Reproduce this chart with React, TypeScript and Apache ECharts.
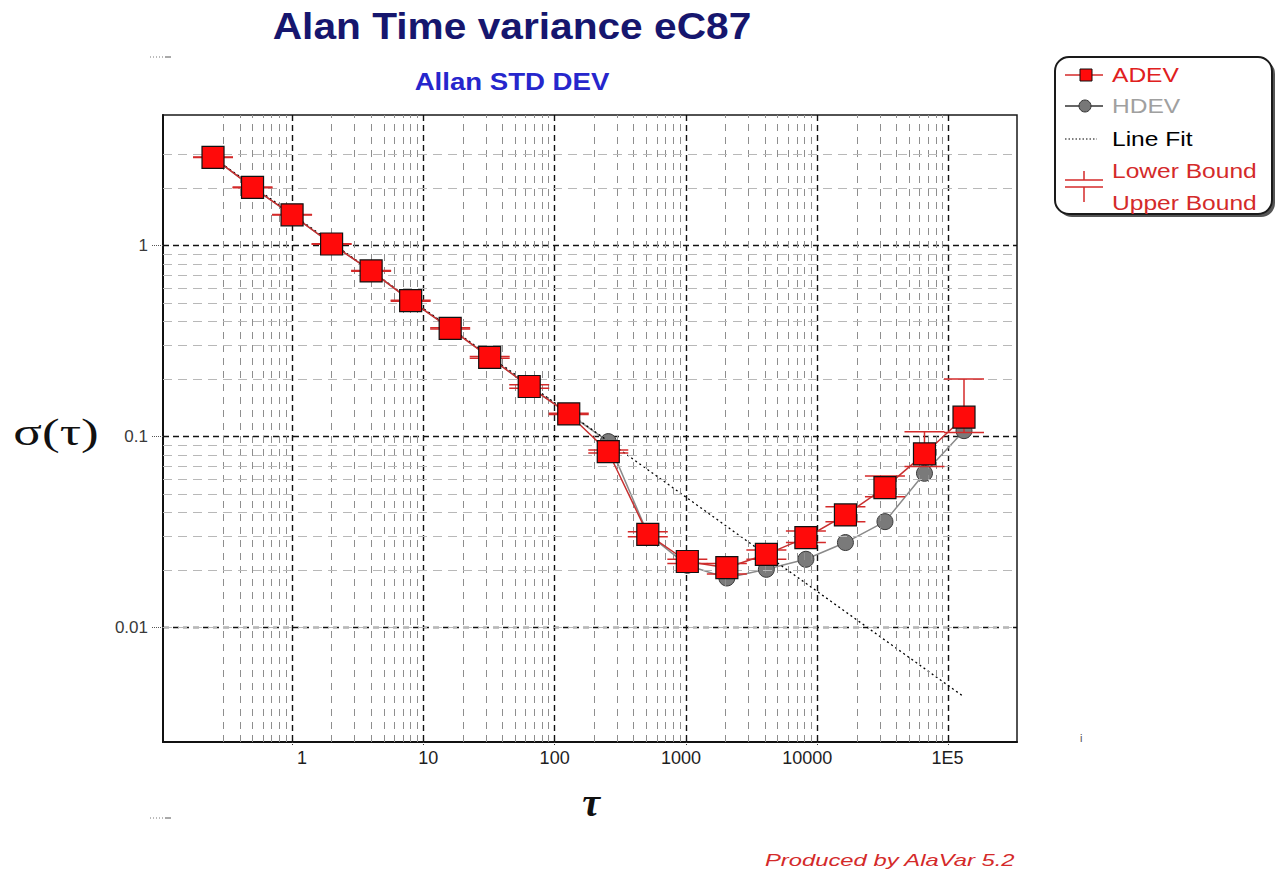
import React, { useEffect, useRef } from 'react';
import * as echarts from 'echarts';

// ---- data ----
const TAU = [0.25, 0.5, 1, 2, 4, 8, 16, 32, 64, 128, 256, 512, 1024, 2048, 4096, 8192, 16384, 32768, 65536, 131072];
const ADEV = [2.9, 2.02, 1.45, 1.02, 0.737, 0.515, 0.369, 0.26, 0.183, 0.1315, 0.0834, 0.0308, 0.0222, 0.0206, 0.0242, 0.0296, 0.0389, 0.0541, 0.0812, 0.1264];
const HDEV = [2.9, 2.02, 1.45, 1.02, 0.737, 0.515, 0.369, 0.26, 0.183, 0.132, 0.0942, 0.031, 0.0212, 0.0182, 0.0202, 0.0228, 0.0279, 0.0359, 0.0643, 0.1075];
const ADEV_LOWER = [2.89, 2.01, 1.445, 1.016, 0.734, 0.512, 0.366, 0.257, 0.179, 0.1305, 0.0822, 0.0299, 0.0217, 0.0191, 0.0228, 0.0279, 0.0359, 0.0485, 0.0697, 0.105];
const ADEV_UPPER = [2.91, 2.03, 1.455, 1.024, 0.74, 0.518, 0.372, 0.263, 0.187, 0.1325, 0.0852, 0.0318, 0.0228, 0.0217, 0.0255, 0.0321, 0.043, 0.0623, 0.1062, 0.2005];
const LINE_FIT_TAU = [0.25, 131072];
const LINE_FIT_SIGMA = [2.9, 0.00434];

const X_TICK_LABELS = ['1', '10', '100', '1000', '10000', '1E5']; // decades 10^0 .. 10^5
const X_FIRST_EXP = 0;
const Y_TICK_LABELS = ['0.01', '0.1', '1']; // decades 10^-2 .. 10^0
const Y_FIRST_EXP = -2;
const X_RANGE = [0.104, 332000];
const Y_RANGE = [0.00252, 4.83];

const X_MINOR_GRID = [
  0.3, 0.4, 0.5, 0.6, 0.7, 0.8, 0.9,
  2, 3, 4, 5, 6, 7, 8, 9,
  20, 30, 40, 50, 60, 70, 80, 90,
  200, 300, 400, 500, 600, 700, 800, 900,
  2000, 3000, 4000, 5000, 6000, 7000, 8000, 9000,
  20000, 30000, 40000, 50000, 60000, 70000, 80000, 90000,
];
const Y_MINOR_GRID = [
  0.004, 0.005, 0.006, 0.007, 0.008, 0.009,
  0.02, 0.03, 0.04, 0.05, 0.06, 0.07, 0.08, 0.09,
  0.2, 0.3, 0.4, 0.5, 0.6, 0.7, 0.8, 0.9,
  2, 3,
];

const RED = '#d42a2a';
const SANS = '"Liberation Sans", Arial, sans-serif';
const SERIF = '"Liberation Serif", "DejaVu Serif", serif';

function decadeLabel(labels: string[], firstExp: number) {
  return (v: number) => {
    const e = Math.log10(v);
    const r = Math.round(e);
    if (Math.abs(e - r) > 1e-6) return '';
    return labels[r - firstExp] ?? '';
  };
}

function boundRenderer() {
  return (params: any, api: any) => {
    const x = api.value(0);
    const b = api.value(1);
    const v = api.value(2);
    const pb = api.coord([x, b]);
    const pv = api.coord([x, v]);
    const st = { stroke: RED, lineWidth: 1.5 };
    return {
      type: 'group',
      children: [
        { type: 'line', shape: { x1: pb[0] - 20, y1: pb[1], x2: pb[0] + 20, y2: pb[1] }, style: st },
        { type: 'line', shape: { x1: pb[0], y1: pb[1], x2: pv[0], y2: pv[1] }, style: st },
      ],
    };
  };
}

function txt(text: string, x: number, y: number, o: any) {
  return {
    type: 'text',
    x,
    y,
    scaleX: o.scaleX ?? 1,
    silent: true,
    z: 100,
    style: {
      text,
      fill: o.fill,
      fontSize: o.fontSize,
      fontWeight: o.fontWeight ?? 'normal',
      fontStyle: o.fontStyle ?? 'normal',
      fontFamily: o.fontFamily ?? SANS,
      align: o.align ?? 'left',
      textAlign: o.align ?? 'left',
      verticalAlign: 'middle',
      textVerticalAlign: 'middle',
    },
  };
}

export default function App() {
  const ref = useRef<HTMLDivElement>(null);

  useEffect(() => {
    const chart = echarts.init(ref.current!, null, { renderer: 'svg' });

    const minorMarks: any[] = [
      ...X_MINOR_GRID.map((v) => ({ xAxis: v, lineStyle: { color: '#8e8e8e', type: [7, 6], width: 1 } })),
      ...Y_MINOR_GRID.map((v) => ({ yAxis: v, lineStyle: { color: '#b8b8b8', type: [9, 6], width: 1 } })),
    ];

    const legendX = 1065;
    const legendRows = [75, 106, 139, 171, 203];
    const legendText = { fontSize: 21, scaleX: 1.17 };

    const option: any = {
      animation: false,
      backgroundColor: '#ffffff',
      grid: {
        left: 163,
        top: 115,
        width: 854,
        height: 627,
        show: true,
        borderColor: '#1a1a1a',
        borderWidth: 1.5,
        backgroundColor: 'transparent',
      },
      xAxis: {
        type: 'log',
        logBase: 10,
        min: X_RANGE[0],
        max: X_RANGE[1],
        axisLine: { show: true, lineStyle: { color: '#111', width: 2 } },
        axisTick: { show: true, length: 4, lineStyle: { color: '#333', type: 'dotted' } },
        axisLabel: {
          show: true,
          formatter: decadeLabel(X_TICK_LABELS, X_FIRST_EXP),
          showMinLabel: false,
          showMaxLabel: false,
          color: '#1e1e1e',
          fontFamily: SANS,
          fontSize: 18,
          margin: 7,
          align: 'right',
          padding: [0, -15, 0, 0],
        },
        splitLine: {
          show: true,
          showMinLine: false,
          showMaxLine: false,
          lineStyle: { color: '#111', type: [6, 4], width: 1.4 },
        },
        minorTick: { show: false },
        minorSplitLine: { show: false },
      },
      yAxis: {
        type: 'log',
        logBase: 10,
        min: Y_RANGE[0],
        max: Y_RANGE[1],
        axisLine: { show: true, lineStyle: { color: '#111', width: 2 } },
        axisTick: { show: true, length: 12, lineStyle: { color: '#555', type: 'dotted' } },
        axisLabel: {
          show: true,
          formatter: decadeLabel(Y_TICK_LABELS, Y_FIRST_EXP),
          showMinLabel: false,
          showMaxLabel: false,
          color: '#3a3a3a',
          fontFamily: SANS,
          fontSize: 17,
          margin: 15,
        },
        splitLine: {
          show: true,
          showMinLine: false,
          showMaxLine: false,
          lineStyle: { color: '#111', type: [6, 4], width: 1.4 },
        },
        minorTick: { show: false },
        minorSplitLine: { show: false },
      },
      series: [
        {
          name: 'minor grid',
          type: 'line',
          data: [],
          z: 1,
          silent: true,
          markLine: {
            silent: true,
            animation: false,
            symbol: ['none', 'none'],
            label: { show: false },
            emphasis: { disabled: true },
            data: minorMarks,
          },
        },
        {
          name: 'HDEV',
          type: 'line',
          z: 3,
          data: TAU.map((t, i) => [t, HDEV[i]]),
          symbol: 'circle',
          symbolSize: 16,
          lineStyle: { color: '#8a8a8a', width: 1.5 },
          itemStyle: { color: '#7a7a7a', borderColor: '#3a3a3a', borderWidth: 1 },
        },
        {
          name: 'Line Fit',
          type: 'line',
          z: 4,
          data: LINE_FIT_TAU.map((t, i) => [t, LINE_FIT_SIGMA[i]]),
          symbol: 'none',
          lineStyle: { color: '#000', width: 1.3, type: [2, 3] },
        },
        {
          name: 'Lower Bound',
          type: 'custom',
          z: 5,
          renderItem: boundRenderer(),
          encode: { x: 0, y: [1, 2] },
          data: TAU.map((t, i) => [t, ADEV_LOWER[i], ADEV[i]]),
        },
        {
          name: 'Upper Bound',
          type: 'custom',
          z: 5,
          renderItem: boundRenderer(),
          encode: { x: 0, y: [1, 2] },
          data: TAU.map((t, i) => [t, ADEV_UPPER[i], ADEV[i]]),
        },
        {
          name: 'ADEV',
          type: 'line',
          z: 6,
          data: TAU.map((t, i) => [t, ADEV[i]]),
          symbol: 'rect',
          symbolSize: 22,
          lineStyle: { color: '#c83030', width: 1.5 },
          itemStyle: { color: '#ff0a0a', borderColor: '#111', borderWidth: 1.2 },
        },
      ],
      graphic: [
        // titles
        txt('Alan Time variance eC87', 512, 26, { fill: '#16166e', fontSize: 36, fontWeight: 'bold', align: 'center', scaleX: 1.13 }),
        txt('Allan STD DEV', 512, 82, { fill: '#2626cc', fontSize: 23, fontWeight: 'bold', align: 'center', scaleX: 1.2 }),
        // axis names
        txt('σ(τ)', 56, 432, { fill: '#111', fontSize: 38, fontFamily: SERIF, align: 'center', scaleX: 1.4 }),
        txt('τ', 591, 802, { fill: '#111', fontSize: 40, fontFamily: SERIF, fontStyle: 'italic', fontWeight: 'bold', align: 'center' }),
        // credit
        txt('Produced by AlaVar 5.2', 765, 860, { fill: RED, fontSize: 17, fontStyle: 'italic', scaleX: 1.4 }),
        // stray marks
        { type: 'line', shape: { x1: 150, y1: 57, x2: 165, y2: 57 }, style: { stroke: '#777', lineWidth: 1, lineDash: [1, 2] } },
        { type: 'line', shape: { x1: 165, y1: 57, x2: 171, y2: 57 }, style: { stroke: '#555', lineWidth: 1 } },
        { type: 'line', shape: { x1: 150, y1: 818, x2: 165, y2: 818 }, style: { stroke: '#777', lineWidth: 1, lineDash: [1, 2] } },
        { type: 'line', shape: { x1: 165, y1: 818, x2: 171, y2: 818 }, style: { stroke: '#555', lineWidth: 1 } },
        txt('i', 1080, 738, { fill: '#555', fontSize: 11 }),
        // legend box
        { type: 'rect', z: 90, shape: { x: 1058, y: 60, width: 217, height: 157, r: 14 }, style: { fill: '#555', stroke: 'none' } },
        { type: 'rect', z: 91, shape: { x: 1055, y: 57, width: 217, height: 157, r: 14 }, style: { fill: '#fff', stroke: '#1a1a1a', lineWidth: 2 } },
        // ADEV
        { type: 'line', z: 95, shape: { x1: legendX, y1: legendRows[0], x2: legendX + 38, y2: legendRows[0] }, style: { stroke: RED, lineWidth: 1.5 } },
        { type: 'rect', z: 96, shape: { x: 1080, y: legendRows[0] - 6, width: 12, height: 12 }, style: { fill: '#ff0a0a', stroke: '#111', lineWidth: 1 } },
        txt('ADEV', 1112, legendRows[0], { fill: '#e02020', ...legendText }),
        // HDEV
        { type: 'line', z: 95, shape: { x1: legendX, y1: legendRows[1], x2: legendX + 38, y2: legendRows[1] }, style: { stroke: '#333', lineWidth: 1.5 } },
        { type: 'circle', z: 96, shape: { cx: 1085, cy: legendRows[1], r: 6 }, style: { fill: '#777', stroke: '#333', lineWidth: 1 } },
        txt('HDEV', 1112, legendRows[1], { fill: '#a0a0a0', ...legendText }),
        // Line Fit
        { type: 'line', z: 95, shape: { x1: legendX, y1: legendRows[2], x2: legendX + 32, y2: legendRows[2] }, style: { stroke: '#000', lineWidth: 1.2, lineDash: [1.5, 2] } },
        txt('Line Fit', 1112, legendRows[2], { fill: '#000', ...legendText }),
        // Lower Bound
        { type: 'line', z: 95, shape: { x1: legendX, y1: 180, x2: legendX + 38, y2: 180 }, style: { stroke: RED, lineWidth: 1.5 } },
        { type: 'line', z: 95, shape: { x1: 1084, y1: 171, x2: 1084, y2: 180 }, style: { stroke: RED, lineWidth: 1.5 } },
        txt('Lower Bound', 1112, legendRows[3], { fill: RED, ...legendText }),
        // Upper Bound
        { type: 'line', z: 95, shape: { x1: legendX, y1: 187, x2: legendX + 38, y2: 187 }, style: { stroke: RED, lineWidth: 1.5 } },
        { type: 'line', z: 95, shape: { x1: 1084, y1: 187, x2: 1084, y2: 202 }, style: { stroke: RED, lineWidth: 1.5 } },
        txt('Upper Bound', 1112, legendRows[4], { fill: RED, ...legendText }),
      ],
    };

    chart.setOption(option);
    return () => chart.dispose();
  }, []);

  return (
    <div
      ref={ref}
      style={{ position: 'fixed', left: 0, top: 0, width: 1282, height: 876, background: '#fff' }}
    />
  );
}
